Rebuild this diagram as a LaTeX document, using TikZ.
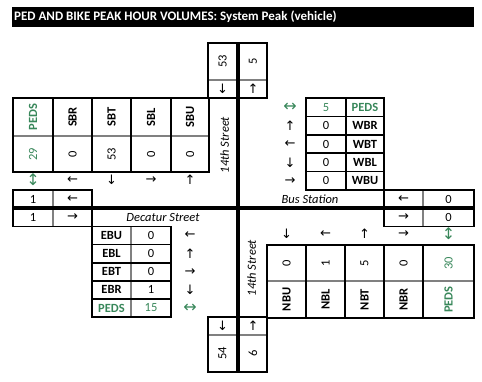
\documentclass[tikz,border=0pt]{standalone}
\usepackage{fontspec}
\setmainfont{Carlito}
\newfontfamily\arrfont{DejaVu Sans}
\definecolor{pedgreen}{RGB}{56,135,90}
\newcommand{\cellfont}{\fontsize{12.5}{14}\selectfont}

\begin{document}
\begin{tikzpicture}[x=1pt, y=-1pt,
    lbl/.style={inner sep=0pt, font=\cellfont},
    hdr/.style={inner sep=0pt, font=\cellfont\bfseries},
    ped/.style={text=pedgreen},
    arw/.style={inner sep=0pt, font=\arrfont\fontsize{13}{14}\selectfont},
    pedarw/.style={inner sep=0pt, text=pedgreen, font=\arrfont\fontsize{16}{17}\selectfont},
    street/.style={inner sep=0pt, font=\cellfont\itshape},
    frame/.style={draw, line width=1.6pt},
    sep/.style={draw=gray, line width=1.3pt},
    road/.style={line width=3.8pt}
]
    \useasboundingbox (0,0) rectangle (482,381);

    % title bar
    \fill (12,7) rectangle (474,27);
    \node[hdr, text=white, anchor=west, font=\fontsize{13}{15}\selectfont\bfseries] (title) at (14,17) {PED AND BIKE PEAK HOUR VOLUMES: System Peak (vehicle)};

    % north leg
    \draw[sep] (208,80) -- (237,80) (239,80) -- (267,80);
    \draw[frame] (208,43) rectangle (237,98);
    \draw[frame] (239,43) rectangle (267,98);
    \node[lbl, rotate=90] (nIn) at (222.5,61) {53};
    \node[arw] (nInA) at (222.5,89) {↓};
    \node[lbl, rotate=90] (nOut) at (253,61) {5};
    \node[arw] (nOutA) at (253,89) {↑};

    % southbound table
    \draw[sep] (13,136) -- (209,136);
    \draw[frame] (13,98) rectangle (209,172);
    \draw[frame] (53,98) -- (53,172) (92,98) -- (92,172) (131,98) -- (131,172) (171,98) -- (171,172);
    \node[hdr, ped, rotate=90] (sbPedsH) at (33,117) {PEDS};
    \node[hdr, rotate=90] (sbrH) at (72.5,117) {SBR};
    \node[hdr, rotate=90] (sbtH) at (111.5,117) {SBT};
    \node[hdr, rotate=90] (sblH) at (151,117) {SBL};
    \node[hdr, rotate=90] (sbuH) at (190,117) {SBU};
    \node[lbl, ped, rotate=90] (sbPeds) at (33,154) {29};
    \node[lbl, rotate=90] (sbr) at (72.5,154) {0};
    \node[lbl, rotate=90] (sbt) at (111.5,154) {53};
    \node[lbl, rotate=90] (sbl) at (151,154) {0};
    \node[lbl, rotate=90] (sbu) at (190,154) {0};
    \node[pedarw] (sbPedsA) at (33,180) {↕};
    \node[arw] (sbrA) at (72.5,180) {←};
    \node[arw] (sbtA) at (111.5,180) {↓};
    \node[arw] (sblA) at (151,180) {→};
    \node[arw] (sbuA) at (190,180) {↑};

    % west leg
    \draw[sep] (53,190) -- (53,226.5);
    \draw[frame] (13,190) rectangle (92,226.5);
    \node[lbl] (wOut) at (33,199.5) {1};
    \node[arw] (wOutA) at (72.5,199.5) {←};
    \node[lbl] (wIn) at (33,217.5) {1};
    \node[arw] (wInA) at (72.5,217.5) {→};

    % eastbound table
    \draw[sep] (131,226.5) -- (131,317);
    \draw[frame] (92,226.5) rectangle (171,317);
    \draw[frame] (92,244.6) -- (171,244.6) (92,262.7) -- (171,262.7) (92,280.8) -- (171,280.8) (92,298.9) -- (171,298.9);
    \node[hdr] (ebuH) at (111.5,235.5) {EBU};
    \node[hdr] (eblH) at (111.5,253.7) {EBL};
    \node[hdr] (ebtH) at (111.5,271.8) {EBT};
    \node[hdr] (ebrH) at (111.5,289.9) {EBR};
    \node[hdr, ped] (ebPedsH) at (111.5,308) {PEDS};
    \node[lbl] (ebu) at (151,235.5) {0};
    \node[lbl] (ebl) at (151,253.7) {0};
    \node[lbl] (ebt) at (151,271.8) {0};
    \node[lbl] (ebr) at (151,289.9) {1};
    \node[lbl, ped] (ebPeds) at (151,308) {15};
    \node[arw] (ebuA) at (190,235.5) {←};
    \node[arw] (eblA) at (190,253.7) {↑};
    \node[arw] (ebtA) at (190,271.8) {→};
    \node[arw] (ebrA) at (190,289.9) {↓};
    \node[pedarw] (ebPedsA) at (190,308) {↔};

    % westbound table
    \draw[frame] (306,98) rectangle (384,190);
    \draw[frame] (346,98) -- (346,190);
    \draw[frame] (306,116.4) -- (384,116.4) (306,134.8) -- (384,134.8) (306,153.2) -- (384,153.2) (306,171.6) -- (384,171.6);
    \node[lbl, ped] (wbPeds) at (326,107.2) {5};
    \node[lbl] (wbr) at (326,125.6) {0};
    \node[lbl] (wbt) at (326,144) {0};
    \node[lbl] (wbl) at (326,162.4) {0};
    \node[lbl] (wbu) at (326,180.8) {0};
    \node[hdr, ped] (wbPedsH) at (365,107.2) {PEDS};
    \node[hdr] (wbrH) at (365,125.6) {WBR};
    \node[hdr] (wbtH) at (365,144) {WBT};
    \node[hdr] (wblH) at (365,162.4) {WBL};
    \node[hdr] (wbuH) at (365,180.8) {WBU};
    \node[pedarw] (wbPedsA) at (290,107.2) {↔};
    \node[arw] (wbrA) at (290,125.6) {↑};
    \node[arw] (wbtA) at (290,144) {←};
    \node[arw] (wblA) at (290,162.4) {↓};
    \node[arw] (wbuA) at (290,180.8) {→};

    % east leg
    \draw[sep] (423,190) -- (423,226.5);
    \draw[frame] (384,190) rectangle (474,226.5);
    \node[arw] (eInA) at (403.5,199.5) {←};
    \node[lbl] (eIn) at (448.5,199.5) {0};
    \node[arw] (eOutA) at (403.5,217.5) {→};
    \node[lbl] (eOut) at (448.5,217.5) {0};

    % northbound table
    \node[arw] (nbuA) at (286.5,234) {↓};
    \node[arw] (nblA) at (325.5,234) {←};
    \node[arw] (nbtA) at (364.5,234) {↑};
    \node[arw] (nbrA) at (403.5,234) {→};
    \node[pedarw] (nbPedsA) at (448.5,234) {↕};
    \draw[sep] (267,281) -- (474,281);
    \draw[frame] (267,245) rectangle (474,318);
    \draw[frame] (306,245) -- (306,318) (345,245) -- (345,318) (384,245) -- (384,318) (423,245) -- (423,318);
    \node[lbl, rotate=90] (nbu) at (286.5,263) {0};
    \node[lbl, rotate=90] (nbl) at (325.5,263) {1};
    \node[lbl, rotate=90] (nbt) at (364.5,263) {5};
    \node[lbl, rotate=90] (nbr) at (403.5,263) {0};
    \node[lbl, ped, rotate=90] (nbPeds) at (448.5,263) {30};
    \node[hdr, rotate=90] (nbuH) at (286.5,299.5) {NBU};
    \node[hdr, rotate=90] (nblH) at (325.5,299.5) {NBL};
    \node[hdr, rotate=90] (nbtH) at (364.5,299.5) {NBT};
    \node[hdr, rotate=90] (nbrH) at (403.5,299.5) {NBR};
    \node[hdr, ped, rotate=90] (nbPedsH) at (448.5,299.5) {PEDS};

    % south leg
    \draw[sep] (208,335) -- (237,335) (239,335) -- (267,335);
    \draw[frame] (208,317) rectangle (237,372);
    \draw[frame] (239,317) rectangle (267,372);
    \node[arw] (sOutA) at (222.5,326) {↓};
    \node[lbl, rotate=90] (sOut) at (222.5,353) {54};
    \node[arw] (sInA) at (253,326) {↑};
    \node[lbl, rotate=90] (sIn) at (253,353) {6};

    % streets
    \draw[road] (238,43) -- (238,372);
    \draw[road] (12,208) -- (474,208);
    \node[street, rotate=90] (streetN) at (224.5,145) {14th Street};
    \node[street, rotate=90] (streetS) at (251.5,268) {14th Street};
    \node[street] (streetW) at (163,217.5) {Decatur Street};
    \node[street] (streetE) at (310,199.5) {Bus Station};
\end{tikzpicture}
\end{document}
